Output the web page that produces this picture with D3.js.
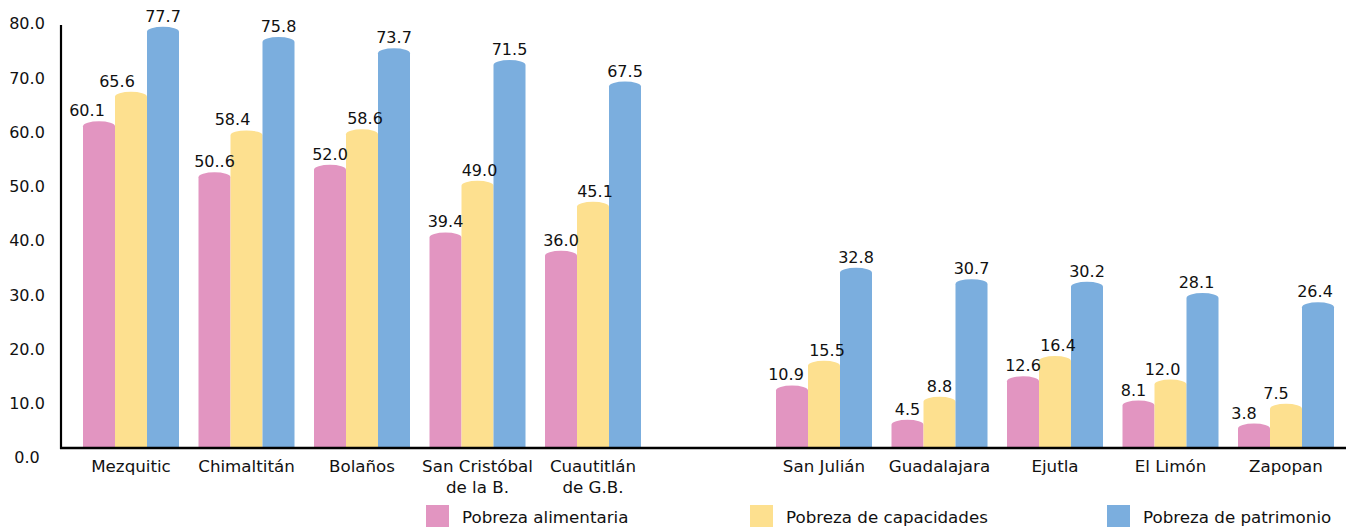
<!DOCTYPE html>
<html>
<head>
<meta charset="utf-8">
<script src="https://cdn.jsdelivr.net/npm/d3@7/dist/d3.min.js"></script>
<style>
  html, body { margin: 0; padding: 0; background: #fff; }
  svg { display: block; font-family: "DejaVu Sans", sans-serif; }
</style>
</head>
<body>
<svg id="chart" width="1346" height="530"></svg>
<script>
// ---------------- DATA ----------------
const categories = [
  "Mezquitic", "Chimaltitán", "Bolaños", "San Cristóbal\nde la B.", "Cuautitlán\nde G.B.",
  "San Julián", "Guadalajara", "Ejutla", "El Limón", "Zapopan"
];
const seriesNames = ["Pobreza alimentaria", "Pobreza de capacidades", "Pobreza de patrimonio"];
const alimentaria = [60.1, 50.6, 52.0, 39.4, 36.0, 10.9, 4.5, 12.6, 8.1, 3.8];
const capacidades = [65.6, 58.4, 58.6, 49.0, 45.1, 15.5, 8.8, 16.4, 12.0, 7.5];
const patrimonio  = [77.7, 75.8, 73.7, 71.5, 67.5, 32.8, 30.7, 30.2, 28.1, 26.4];
const yTicks = [0, 10, 20, 30, 40, 50, 60, 70, 80];
// label text as printed in the source (one label has a typo "50..6")
const labelOverrides = { "1-0": "50..6" };
const colors = ["#E295C1", "#FDE08F", "#7BAEDE"];

// ---------------- LAYOUT ----------------
const W = 1346, H = 530;
const svg = d3.select("#chart");
const seriesValues = [alimentaria, capacidades, patrimonio];
// small horizontal nudges of value labels seen in the source (layout only)
const labelNudge = { "0-0": -12, "0-1": -14, "1-1": -14, "2-1": 3, "3-1": 2, "4-1": 2,
  "5-0": -6, "5-1": 3, "7-1": 3, "8-0": -5, "8-1": -8, "8-2": -6, "9-0": -10, "9-1": -10, "9-2": -3 };

// domain with an empty spacer slot between the two groups
const SPACER = "__spacer__";
const domain = categories.slice(0, 5).concat([SPACER], categories.slice(5));

const step = 115.5, bw = 96;
const pInner = 1 - bw / step;
const x0 = 83 - (pInner / 2) * step;
const x = d3.scaleBand()
  .domain(domain)
  .range([x0, x0 + step * domain.length])
  .paddingInner(pInner)
  .paddingOuter(pInner / 2);

const xs = d3.scaleBand().domain(d3.range(3)).range([0, x.bandwidth()]).padding(0);

const baseY = 448;
const y = d3.scaleLinear().domain([0, 80]).range([baseY, baseY - 80 * 5.37]);
// tick labels in the source sit slightly below the bar scale
const yLab = d3.scaleLinear().domain([0, 80]).range([457.5, 23.5]);

const ry = 5;
const fmt = d3.format(".1f");

const data = [];
categories.forEach((c, i) => {
  seriesValues.forEach((vals, s) => {
    data.push({ cat: c, i, s, v: vals[i] });
  });
});

// bars (cylinder-like tops)
svg.append("g").selectAll("path")
  .data(data)
  .join("path")
  .attr("fill", d => colors[d.s])
  .attr("d", d => {
    const bx0 = x(d.cat) + xs(d.s);
    const bx1 = bx0 + xs.bandwidth();
    const c = y(d.v) + 1;
    const rx = xs.bandwidth() / 2;
    return `M${bx0},${baseY} L${bx0},${c} A${rx},${ry} 0 0 1 ${bx1},${c} L${bx1},${baseY} Z`;
  });

// value labels
svg.append("g").selectAll("text")
  .data(data)
  .join("text")
  .attr("x", d => x(d.cat) + xs(d.s) + xs.bandwidth() / 2 + (labelNudge[`${d.i}-${d.s}`] || 0))
  .attr("y", d => y(d.v) - 9)
  .attr("text-anchor", "middle")
  .attr("font-size", 16)
  .attr("fill", "#111")
  .text(d => labelOverrides[`${d.i}-${d.s}`] || fmt(d.v));

// axes lines
svg.append("line")
  .attr("x1", 61).attr("x2", 61)
  .attr("y1", 25).attr("y2", baseY + 1)
  .attr("stroke", "#000").attr("stroke-width", 2.2);
svg.append("line")
  .attr("x1", 60).attr("x2", W)
  .attr("y1", baseY).attr("y2", baseY)
  .attr("stroke", "#000").attr("stroke-width", 2.6);

// y tick labels
svg.append("g").selectAll("text")
  .data(yTicks)
  .join("text")
  .attr("x", 27)
  .attr("y", d => yLab(d) + 5.8)
  .attr("text-anchor", "middle")
  .attr("font-size", 16)
  .attr("fill", "#111")
  .text(d => fmt(d));

// x category labels
const xl = svg.append("g").selectAll("text")
  .data(categories)
  .join("text")
  .attr("x", d => x(d) + x.bandwidth() / 2)
  .attr("y", 472)
  .attr("text-anchor", "middle")
  .attr("font-size", 16.7)
  .attr("fill", "#111");
xl.each(function(d) {
  const t = d3.select(this);
  const cx = x(d) + x.bandwidth() / 2;
  d.split("\n").forEach((line, k) => {
    t.append("tspan").attr("x", cx).attr("dy", k === 0 ? 0 : 21).text(line);
  });
});

// legend
const legendX = [426, 750, 1107];
const lg = svg.append("g").selectAll("g")
  .data(seriesNames)
  .join("g")
  .attr("transform", (d, i) => `translate(${legendX[i]},505)`);
lg.append("rect").attr("width", 23).attr("height", 22).attr("fill", (d, i) => colors[i]);
lg.append("text")
  .attr("x", 36).attr("y", 18)
  .attr("font-size", 16.7)
  .attr("fill", "#111")
  .text(d => d);
</script>
</body>
</html>
